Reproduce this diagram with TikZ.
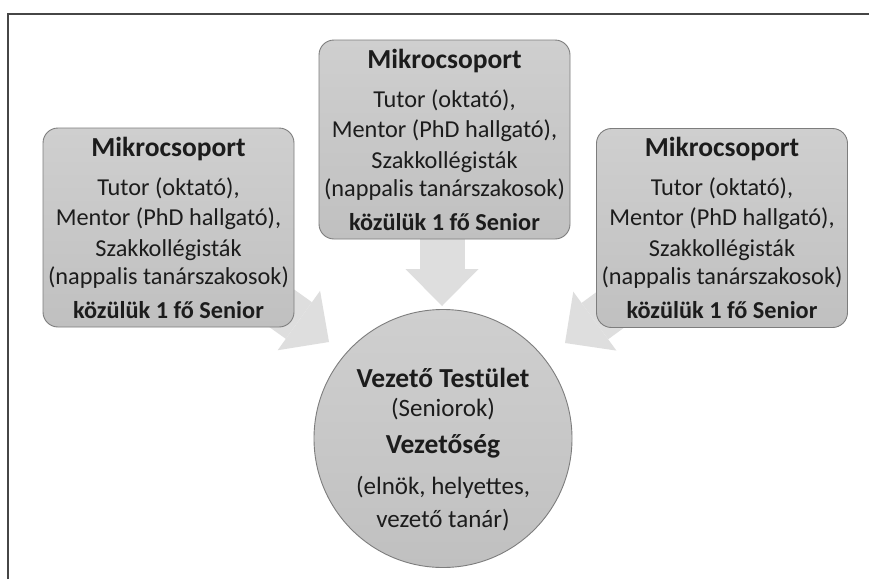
\documentclass[tikz,border=0pt]{standalone}
\usepackage{fontspec}
\setmainfont{Carlito}
\usetikzlibrary{backgrounds,arrows.meta}
\definecolor{boxtop}{RGB}{207,207,207}
\definecolor{boxbot}{RGB}{192,192,192}
\definecolor{boxline}{RGB}{125,125,125}
\definecolor{arrowfill}{RGB}{222,222,222}
\definecolor{txt}{RGB}{28,28,28}
\definecolor{framecol}{RGB}{70,70,70}
\tikzset{
  mbox/.style={draw=boxline, line width=0.9pt, rounded corners=15pt,
    top color=boxtop, bottom color=boxbot, minimum width=251pt, minimum height=199pt, inner sep=0pt},
  bigcircle/.style={circle, draw=boxline, line width=0.9pt,
    top color=boxtop, bottom color=boxbot, minimum size=258pt, inner sep=0pt},
  htxt/.style={anchor=base, inner sep=0pt, text=txt, font=\fontsize{27.5}{32}\selectfont\bfseries},
  btxt/.style={anchor=base, inner sep=0pt, text=txt, font=\fontsize{24.3}{28}\selectfont},
  kbtxt/.style={anchor=base, inner sep=0pt, text=txt, font=\fontsize{24.3}{28}\selectfont\bfseries},
  chtxt/.style={anchor=base, inner sep=0pt, text=txt, font=\fontsize{27.5}{32}\selectfont\bfseries},
  cbtxt/.style={anchor=base, inner sep=0pt, text=txt, font=\fontsize{25}{30}\selectfont},
  bigarrow/.style={draw=arrowfill, line width=45pt,
    -{Triangle[width=73pt,length=37pt,line width=0pt,fill=arrowfill]}},
  frameline/.style={draw=framecol, line width=1.2pt}
}
\newcommand{\mikrogroup}[3]{%
  \node[mbox] (#1) at ({#2},{#3+99.5}) {};
  \node[htxt] (#1-h) at ({#2},{#3+28}) {Mikrocsoport};
  \node[btxt] (#1-a) at ({#2},{#3+67}) {Tutor (oktató),};
  \node[btxt] (#1-b) at ({#2},{#3+97}) {Mentor (PhD hallgató),};
  \node[btxt] (#1-c) at ({#2},{#3+128}) {Szakkollégisták};
  \node[btxt] (#1-d) at ({#2},{#3+156}) {(nappalis tanárszakosok)};
  \node[kbtxt] (#1-e) at ({#2},{#3+190}) {közülük 1 fő Senior};
}
\begin{document}
\begin{tikzpicture}[x=1pt,y=-1pt]
\useasboundingbox (0,0) rectangle (869,579);
% boxes
\mikrogroup{lbox}{168.5}{128}
\mikrogroup{cbox}{444.5}{40}
\mikrogroup{rbox}{722}{128.5}
% circle
\node[bigcircle] (vt) at (443,438.5) {};
\node[chtxt] (vt-a) at (443,387) {Vezető Testület};
\node[cbtxt] (vt-b) at (443,416) {(Seniorok)};
\node[chtxt] (vt-c) at (443,453) {Vezetőség};
\node[cbtxt] (vt-d) at (443,494) {(elnök, helyettes,};
\node[cbtxt] (vt-e) at (443,527) {vezető tanár)};
% arrow tips
\coordinate (ltip) at (329,342);
\coordinate (rtip) at (565,343);
\coordinate (ctip) at (442,306);
\begin{scope}[on background layer]
  \fill[white] (0,0) rectangle (869,579);
  \draw[bigarrow] (lbox.center) -- (ltip);
  \draw[bigarrow] (rbox.center) -- (rtip);
  \draw[bigarrow] (ctip |- cbox.center) -- (ctip);
\end{scope}
% frame
\draw[frameline] (8,579) -- (8,14) -- (869,14);
\end{tikzpicture}
\end{document}
